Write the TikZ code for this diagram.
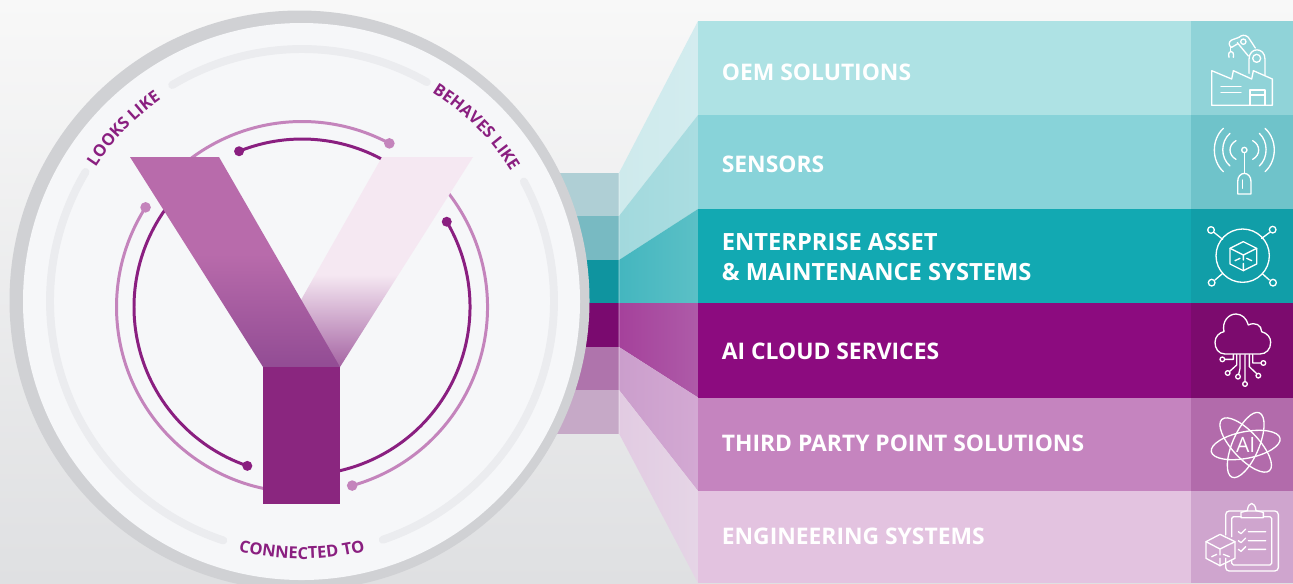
\documentclass[tikz,border=0pt]{standalone}
\usepackage{fontspec}
\setmainfont{Open Sans}
\usetikzlibrary{decorations.text}
\definecolor{bgtop}{HTML}{F8F8F8}
\definecolor{bgbot}{HTML}{DFE0E2}
\definecolor{ringgray}{HTML}{D0D1D4}
\definecolor{disk}{HTML}{F6F7F9}
\definecolor{trackgray}{HTML}{EBECEF}
\definecolor{lobelight}{HTML}{C484BC}
\definecolor{lobedark}{HTML}{8A1F80}
\definecolor{stem}{HTML}{8A267F}
\definecolor{armleft}{HTML}{B86BAB}
\definecolor{armleftlow}{HTML}{924C94}
\definecolor{armright}{HTML}{F5E8F2}
\definecolor{armrightlow}{HTML}{A564A3}
\definecolor{band1}{HTML}{AEE2E4}
\definecolor{band2}{HTML}{88D3D9}
\definecolor{band3}{HTML}{12A9B2}
\definecolor{band4}{HTML}{8C0B7F}
\definecolor{band5}{HTML}{C584BF}
\definecolor{band6}{HTML}{E3C3E0}
\definecolor{side1}{HTML}{90D3D8}
\definecolor{side2}{HTML}{6FC3CA}
\definecolor{side3}{HTML}{119EA8}
\definecolor{side4}{HTML}{7C0B6E}
\definecolor{side5}{HTML}{B26BAB}
\definecolor{side6}{HTML}{CFA5CE}
\definecolor{back1}{HTML}{AFCFD5}
\definecolor{back2}{HTML}{78BAC2}
\definecolor{back3}{HTML}{0F949F}
\definecolor{back4}{HTML}{7A0A6F}
\definecolor{back5}{HTML}{AF74AC}
\definecolor{back6}{HTML}{C6A9C7}
\definecolor{funa1}{HTML}{CEEAEC}
\definecolor{funb1}{HTML}{D3ECEF}
\definecolor{funa2}{HTML}{A2D9DD}
\definecolor{funb2}{HTML}{AADDE1}
\definecolor{funa3}{HTML}{44B6BF}
\definecolor{funb3}{HTML}{5BC0C6}
\definecolor{funa4}{HTML}{A5419B}
\definecolor{funb4}{HTML}{AE5BA8}
\definecolor{funa5}{HTML}{CB9ECC}
\definecolor{funb5}{HTML}{D3A9D3}
\definecolor{funa6}{HTML}{E2CBE2}
\definecolor{funb6}{HTML}{E5D5E6}
\pgfdeclareverticalshading{armleftfade}{100bp}{color(0bp)=(armleftlow); color(25bp)=(armleftlow); color(52bp)=(armleft); color(100bp)=(armleft)}
\pgfdeclareverticalshading{armrightfade}{100bp}{color(0bp)=(armrightlow); color(25bp)=(armrightlow); color(47bp)=(armright); color(100bp)=(armright)}
\newcommand{\arclabel}{\fontsize{9.4pt}{12pt}\bfseries\color{lobedark}}
\tikzset{
bandlabel/.style={anchor=west,align=left,text=white,font=\fontsize{13pt}{17.6pt}\bfseries,inner sep=0pt},
track/.style={trackgray,line width=4.5pt,line cap=round},
lobe/.style={line width=1.7pt},
iconline/.style={white,line width=0.75pt,line join=round,line cap=round},
iconframe/.style={x=0.00667cm,y=-0.00667cm,iconline}
}
\begin{document}
\begin{tikzpicture}[x=0.02cm,y=-0.02cm]
\useasboundingbox (0,0) rectangle (1293,583);
\clip (0,0) rectangle (1293,583);
\shade[top color=bgtop,bottom color=bgbot] (0,0) rectangle (1293,583);
% the strips behind the disk, the funnels and the bands
\foreach \i/\lt/\lb/\rt/\rb in {1/173/216/21/115,2/216/260/115/209,3/260/303/209/303,4/303/347/303/397.5,5/347/390/397.5/491,6/390/433.5/491/583}
{
  \fill[back\i] (540,\lt) rectangle (619,\lb);
  \shade[left color=funa\i,right color=funb\i] (619,\lt) -- (698,\rt) -- (698,\rb) -- (619,\lb) -- cycle;
  \fill[band\i] (698,\rt) rectangle (1190.5,\rb);
  \fill[side\i] (1190.5,\rt) rectangle (1293,\rb);
}
\draw[white,opacity=.2,line width=.6pt] (619,173) -- (619,433.5);
\node[bandlabel] (oem) at (721.5,72) {OEM SOLUTIONS};
\node[bandlabel] (sensors) at (721.5,164) {SENSORS};
\node[bandlabel,font=\fontsize{13.5pt}{17.6pt}\bfseries] (enterprise) at (721.5,257) {ENTERPRISE ASSET\\\& MAINTENANCE SYSTEMS};
\node[bandlabel] (cloud) at (721.5,351) {AI CLOUD SERVICES};
\node[bandlabel] (party) at (721.5,443) {THIRD PARTY POINT SOLUTIONS};
\node[bandlabel] (engineering) at (721.5,536) {ENGINEERING SYSTEMS};
% the disk
\fill[ringgray] (299.5,300.5) circle[radius=290];
\fill[disk] (301.5,301.5) circle[radius=278.5];
\coordinate (hub) at (302,301);
\coordinate (lobec) at (302,307);
\foreach \a/\b in {-121/-60.3,-149.2/-251.8,-28.3/71.3}
  \draw[track] (hub) ++(\a:252) arc[start angle=\a,end angle=\b,radius=252];
\path[decorate,decoration={text along path,text align=center,text={|\arclabel|LOOKS LIKE}}]
  (hub) ++(-171:246) arc[start angle=-171,end angle=-101,radius=246];
\path[decorate,decoration={text along path,text align=center,text={|\arclabel|BEHAVES LIKE}}]
  (hub) ++(-80:246) arc[start angle=-80,end angle=-10,radius=246];
\path[decorate,decoration={text along path,text align=center,text={|\arclabel|CONNECTED TO}}]
  (hub) ++(-250:258) arc[start angle=-250,end angle=-290,radius=258];
% the arcs, each with its dot
\foreach \a/\b in {-147.5/-262,74.3/-42,-61.9/-130}
{
  \draw[lobe,lobelight] (lobec) ++(\a:185.5) arc[start angle=\a,end angle=\b,radius=185.5];
  \fill[lobelight] (lobec) ++(\a:185.5) circle[radius=5.3];
}
\foreach \a/\b in {-112/-55,-30.5/85,-251/-141}
{
  \draw[lobe,lobedark] (lobec) ++(\a:168) arc[start angle=\a,end angle=\b,radius=168];
  \fill[lobedark] (lobec) ++(\a:168) circle[radius=5];
}
% the Y
\shade[shading=armrightfade] (382,157) -- (473,157) -- (340,367) -- (263,367) -- cycle;
\shade[shading=armleftfade] (130,157) -- (219,157) -- (340,367) -- (263,367) -- cycle;
\fill[stem] (263,367) rectangle (340,504);
% factory
\begin{scope}[shift={(1180,20)},iconframe]
  \draw (95,152) -- (155,177) -- (160,152) -- (215,177) -- (220,152) -- (277,177) -- (277,256) -- (95,256) -- cycle;
  \draw (210,256) -- (210,210) -- (255,210) -- (255,256) (210,225) -- (255,225);
  \draw (123,200) -- (183,200) (123,217) -- (183,217);
  \draw (207,160) -- (207,118) .. controls (207,80) and (255,80) .. (255,118) -- (255,165);
  \draw (230,115) circle[radius=12];
  \draw (205,108) -- (172,68) (226,84) -- (205,52) .. controls (195,42) and (183,46) .. (177,52);
  \draw (190,65) circle[radius=8];
  \draw (177,52) -- (155,60) .. controls (145,65) and (145,78) .. (155,82) -- (172,72);
  \draw (152,82) -- (152,92);
  \draw (147,112) .. controls (144,100) and (148,94) .. (153,94) .. controls (158,94) and (162,100) .. (160,112);
\end{scope}
% antenna
\begin{scope}[shift={(1180,20)},iconframe]
  \draw (193,390) circle[radius=8];
  \draw (193,398) -- (193,460) (187,480) -- (187,505);
  \draw (173,522) -- (213,522) -- (213,485) .. controls (213,452) and (173,452) .. (173,485) -- cycle;
  \draw (168,362) .. controls (144,375) and (144,405) .. (168,418);
  \draw (150,340) .. controls (121,365) and (121,413) .. (150,438);
  \draw (130,325) .. controls (94,358) and (94,422) .. (130,455);
  \draw (218,362) .. controls (242,375) and (242,405) .. (218,418);
  \draw (238,340) .. controls (265,365) and (265,413) .. (238,438);
  \draw (255,325) .. controls (292,358) and (292,422) .. (255,455);
\end{scope}
% cube in a ring
\begin{scope}[shift={(1180,210)},iconframe]
  \draw (188,137) circle[radius=80];
  \foreach \x/\y in {93/60,278/59,95/218,279/218}
    \draw (\x,\y) circle[radius=10];
  \draw (103,68) -- (128,88) (268,68) -- (245,85) (105,210) -- (128,190) (268,210) -- (248,192);
  \draw (190,95) -- (230,115) -- (230,162) -- (190,182) -- (150,162) -- (150,115) -- cycle;
  \draw (150,115) -- (190,135) -- (230,115) (190,135) -- (190,150) (190,160) -- (190,182);
  \draw (165,152) -- (180,145) (200,145) -- (215,152);
\end{scope}
% cloud
\begin{scope}[shift={(1180,210)},iconframe]
  \draw (135,432) .. controls (115,432) and (105,415) .. (105,397) .. controls (105,380) and (118,367) .. (132,365)
    .. controls (125,335) and (145,312) .. (168,312) .. controls (185,312) and (200,325) .. (205,345)
    .. controls (225,335) and (245,345) .. (245,365) .. controls (262,370) and (272,382) .. (272,397)
    .. controls (272,418) and (258,432) .. (240,432) -- cycle;
  \foreach \x/\y in {127/448,143/489,174/500,195/522,235/497,250/459}
    \draw (\x,\y) circle[radius=7];
  \draw (134,448) -- (160,448) -- (160,434) (149,484) -- (170,465) -- (170,434);
  \draw (176,493) -- (180,475) -- (180,434) (195,515) -- (195,434);
  \draw (230,491) -- (208,470) -- (208,434) (243,459) -- (218,459) -- (218,434);
\end{scope}
% atom
\begin{scope}[shift={(1180,395)},iconframe]
  \foreach \r in {11,-47,67}
    \draw[rotate around={\r:(197,150)}] (197,150) ellipse[x radius=105,y radius=40];
  \node[text=white,font=\fontsize{12pt}{14pt}\selectfont,inner sep=0pt] (ai) at (197,150) {AI};
\end{scope}
% clipboard and cube
\begin{scope}[shift={(1180,395)},iconframe]
  \draw[rounded corners=2pt] (137,420) -- (137,348) -- (295,348) -- (295,528) -- (137,528) -- (137,490);
  \draw[rounded corners=1pt] (155,425) -- (155,365) -- (183,365) (250,365) -- (275,365) -- (275,510) -- (155,510) -- (155,497);
  \draw (183,368) -- (250,368) -- (250,352) -- (228,347) .. controls (225,318) and (205,318) .. (202,347) -- (183,352) -- cycle;
  \foreach \y in {410,437,463}
    \draw (175,\y) -- (183,\y+6) -- (197,\y-8) (205,\y) -- (257,\y);
  \draw (120,418) -- (165,440) -- (165,490) -- (120,512) -- (78,490) -- (78,440) -- cycle;
  \draw (78,440) -- (120,462) -- (165,440) (120,462) -- (120,480) (120,490) -- (120,512);
  \draw (95,485) -- (110,478) (130,478) -- (148,485);
\end{scope}
\end{tikzpicture}
\end{document}
